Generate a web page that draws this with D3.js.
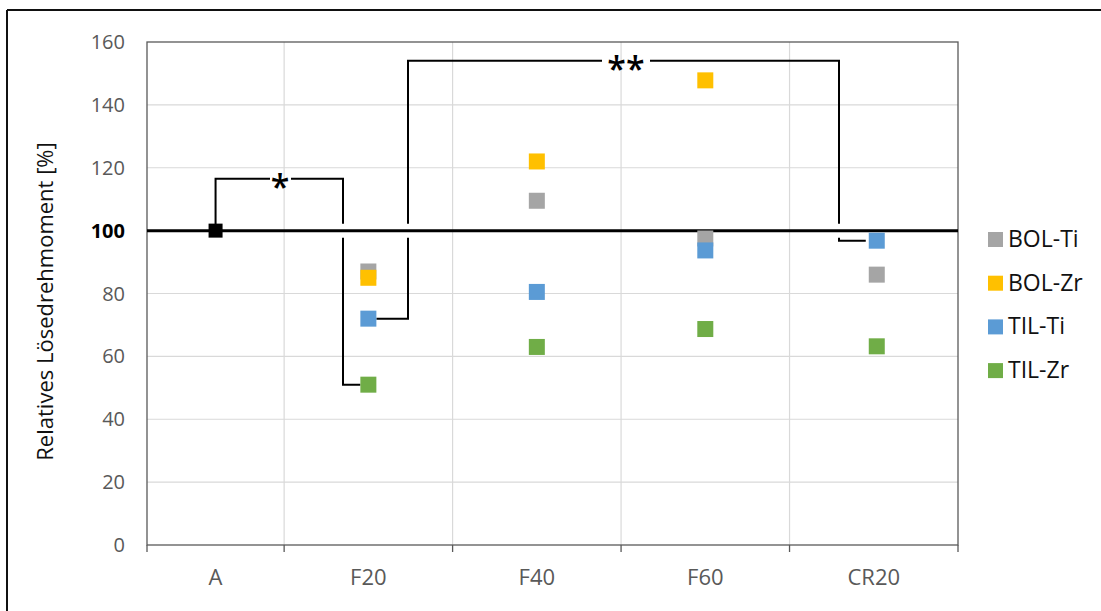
<!DOCTYPE html>
<html><head><meta charset="utf-8">
<script src="https://cdn.jsdelivr.net/npm/d3@7"></script>
<style>body{margin:0;background:#fff;} text{font-family:"Open Sans",sans-serif;}</style>
</head><body><svg id="c" width="1101" height="611"></svg>
<script>
const categories = ["A","F20","F40","F60","CR20"];
const seriesNames = ["BOL-Ti","BOL-Zr","TIL-Ti","TIL-Zr"];
const seriesColors = ["#a5a5a5","#ffc000","#5b9bd5","#70ad47"];
const bolTi = [null, 87, 109.5, 97.5, 86];
const bolZr = [null, 85, 122, 147.8, null];
const tilTi = [null, 72, 80.5, 93.7, 96.8];
const tilZr = [null, 51, 63, 68.7, 63.2];
const reference = [100, null, null, null, null];
const yTicks = [0,20,40,60,80,100,120,140,160];
const seriesValues = [bolTi, bolZr, tilTi, tilZr];

const svg = d3.select("#c");
const L=147, R=958, T=42, B=545;
const y = d3.scaleLinear().domain([0,160]).range([B,T]);
// category i spans [i, i+1]; first slot partly cut off on the left
const x = d3.scaleLinear().domain([0.186, 5]).range([L,R]);
const catCenter = i => x((Math.max(i, x.domain()[0]) + i + 1)/2);

// outer frame (top & left only visible)
svg.append("line").attr("x1",7).attr("x2",1101).attr("y1",10).attr("y2",10).attr("stroke","#111").attr("stroke-width",2);
svg.append("line").attr("x1",7).attr("x2",7).attr("y1",10).attr("y2",611).attr("stroke","#111").attr("stroke-width",2);

// gridlines
svg.append("g").selectAll("line").data(yTicks.filter(d=>d>0&&d<160)).join("line")
  .attr("x1",L).attr("x2",R).attr("y1",d=>y(d)).attr("y2",d=>y(d)).attr("stroke","#d9d9d9").attr("stroke-width",1.2);
svg.append("g").selectAll("line").data([1,2,3,4]).join("line")
  .attr("x1",d=>x(d)).attr("x2",d=>x(d)).attr("y1",T).attr("y2",B).attr("stroke","#d9d9d9").attr("stroke-width",1.2);

// plot frame
svg.append("rect").attr("x",L).attr("y",T).attr("width",R-L).attr("height",B-T).attr("fill","none").attr("stroke","#595959").attr("stroke-width",1.3);

// x-axis ticks
svg.append("g").selectAll("line").data([x.domain()[0],1,2,3,4,5]).join("line")
  .attr("x1",d=>x(d)).attr("x2",d=>x(d)).attr("y1",B).attr("y2",B+7).attr("stroke","#595959").attr("stroke-width",1.3);
svg.append("g").selectAll("text").data(categories).join("text")
  .attr("x",(d,i)=>catCenter(i)).attr("y",B+40).attr("text-anchor","middle")
  .attr("font-size",22).attr("fill","#595959").style("font-family","'Liberation Sans Narrow','Open Sans',sans-serif").text(d=>d);

// y tick labels
svg.append("g").selectAll("text").data(yTicks).join("text")
  .attr("x",125).attr("y",d=>y(d)+7).attr("text-anchor","end")
  .attr("font-size",20).attr("fill",d=>d===100?"#000":"#595959").attr("font-weight",d=>d===100?"bold":"normal")
  .text(d=>d);

// y title
svg.append("text").attr("transform","translate(53,"+((T+B)/2+8)+") rotate(-90)").attr("text-anchor","middle")
  .attr("font-size",22).attr("fill","#111").text("Relatives Lösedrehmoment [%]");

// 100% reference line
svg.append("line").attr("x1",L).attr("x2",R).attr("y1",y(100)).attr("y2",y(100)).attr("stroke","#000").attr("stroke-width",3);

// significance brackets
const gap = 7;
const br = svg.append("g").attr("fill","none").attr("stroke","#000").attr("stroke-width",2);
const aX = catCenter(0), f20X = catCenter(1), cr20X = catCenter(4);
const b1x = 343, b1top = y(116.5);
br.append("path").attr("d",`M${aX},${y(reference[0])}V${b1top}H${270}M${291},${b1top}H${b1x}V${y(100)-gap}M${b1x},${y(100)+gap}V${y(tilZr[1])}H${f20X-8}`);
const b2x = 408, b2top = y(154);
br.append("path").attr("d",`M${f20X+8},${y(tilTi[1])}H${b2x}V${y(100)+gap}M${b2x},${y(100)-gap}V${b2top}H${602}M${650},${b2top}H${839}V${y(100)-gap}M${839},${y(100)+gap}V${y(tilTi[4])}H${cr20X-8}`);
svg.append("text").attr("x",280).attr("y",b1top+20).attr("text-anchor","middle").attr("font-size",34).attr("font-weight",600).text("*");
svg.append("text").attr("x",626).attr("y",b2top+20).attr("text-anchor","middle").attr("font-size",34).attr("font-weight",600).text("**");

// markers
const ms = 16;
svg.append("rect").attr("x",aX-7).attr("y",y(reference[0])-7).attr("width",14).attr("height",14).attr("fill","#000");
seriesValues.forEach((vals,s)=>{
  svg.append("g").selectAll("rect").data(vals.map((v,i)=>({v,i})).filter(d=>d.v!=null)).join("rect")
    .attr("x",d=>catCenter(d.i)+(d.i===4?3:0)-ms/2).attr("y",d=>y(d.v)-ms/2).attr("width",ms).attr("height",ms)
    .attr("fill",seriesColors[s]);
});

// legend
const lg = svg.append("g");
seriesNames.forEach((n,i)=>{
  const yy = 239 + i*43.7;
  lg.append("rect").attr("x",988).attr("y",yy-7).attr("width",15).attr("height",15).attr("fill",seriesColors[i]);
  lg.append("text").attr("x",1008).attr("y",yy+8).attr("font-size",23).attr("fill","#111").text(n);
});
</script></body></html>
